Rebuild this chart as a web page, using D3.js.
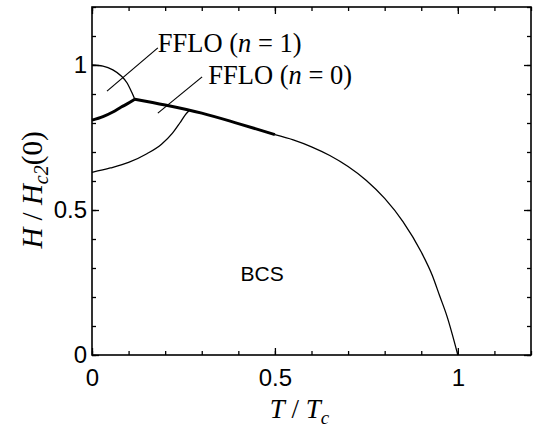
<!DOCTYPE html>
<html><head><meta charset="utf-8">
<script src="https://cdn.jsdelivr.net/npm/d3@7"></script>
<style>body{margin:0;background:#fff}</style>
</head><body><svg id="chart" width="534" height="428"></svg>
<script>
// Phase diagram H/Hc2(0) vs T/Tc
const bcsCurve = [[0.5,0.76],[0.55,0.742],[0.6,0.718],[0.65,0.688],[0.7,0.65],[0.75,0.602],[0.8,0.54],[0.85,0.46],[0.9,0.355],[0.93,0.275],[0.95,0.205],[0.97,0.135],[1.0,0]];
const firstOrderLow = [[0,0.81],[0.03,0.822],[0.057,0.838],[0.08,0.855],[0.096,0.866],[0.117,0.882]];
const firstOrderHigh = [[0.117,0.882],[0.2,0.862],[0.3,0.834],[0.4,0.798],[0.5,0.76]];
const ffloN1 = [[0,1.0],[0.03,0.996],[0.057,0.983],[0.08,0.962],[0.096,0.938],[0.109,0.905],[0.117,0.882]];
const ffloN0 = [[0,0.63],[0.05,0.645],[0.1,0.664],[0.15,0.694],[0.19,0.727],[0.22,0.765],[0.24,0.8],[0.255,0.828],[0.265,0.842]];
const xMinor = [0,0.1,0.2,0.3,0.4,0.5,0.6,0.7,0.8,0.9,1.0,1.1,1.2];
const xMajor = [0,0.5,1];
const yMinor = [0,0.1,0.2,0.3,0.4,0.5,0.6,0.7,0.8,0.9,1.0,1.1,1.2];
const yMajor = [0,0.5,1];
const tickText = d => d3.format("~g")(d);

const svg = d3.select("#chart");
const pLeft = 92, pRight = 531, pTop = 7, pBottom = 355;
const x = d3.scaleLinear().domain([0,1.2]).range([pLeft,pRight]);
const y = d3.scaleLinear().domain([0,1.2]).range([pBottom,pTop]);

const sans = "'Liberation Sans', Arial, sans-serif";
const serif = "'Liberation Serif', 'Times New Roman', serif";

function styleAxis(g){
  g.select(".domain").remove();
  g.selectAll(".tick line").attr("stroke","#000").attr("stroke-width",1.3);
  g.selectAll("text").attr("font-family",sans).attr("font-size",24).attr("fill","#000");
}

// bottom
svg.append("g").attr("transform",`translate(0,${pBottom})`)
  .call(d3.axisBottom(x).tickValues(xMinor).tickSize(-4).tickFormat("")).call(styleAxis);
svg.append("g").attr("transform",`translate(0,${pBottom})`)
  .call(d3.axisBottom(x).tickValues(xMajor).tickSize(-7).tickPadding(14).tickFormat(tickText)).call(styleAxis);
// top
svg.append("g").attr("transform",`translate(0,${pTop})`)
  .call(d3.axisTop(x).tickValues(xMinor).tickSize(-4).tickFormat("")).call(styleAxis);
svg.append("g").attr("transform",`translate(0,${pTop})`)
  .call(d3.axisTop(x).tickValues(xMajor).tickSize(-7).tickFormat("")).call(styleAxis);
// left
svg.append("g").attr("transform",`translate(${pLeft},0)`)
  .call(d3.axisLeft(y).tickValues(yMinor).tickSize(-4).tickFormat("")).call(styleAxis);
svg.append("g").attr("transform",`translate(${pLeft},0)`)
  .call(d3.axisLeft(y).tickValues(yMajor).tickSize(-7).tickPadding(5).tickFormat(tickText)).call(styleAxis);
// right
svg.append("g").attr("transform",`translate(${pRight},0)`)
  .call(d3.axisRight(y).tickValues(yMinor).tickSize(-4).tickFormat("")).call(styleAxis);
svg.append("g").attr("transform",`translate(${pRight},0)`)
  .call(d3.axisRight(y).tickValues(yMajor).tickSize(-7).tickFormat("")).call(styleAxis);

// frame
svg.append("rect").attr("x",pLeft).attr("y",pTop).attr("width",pRight-pLeft).attr("height",pBottom-pTop)
  .attr("fill","none").attr("stroke","#000").attr("stroke-width",1.6);

const line = d3.line().x(d=>x(d[0])).y(d=>y(d[1])).curve(d3.curveMonotoneX);
function curve(data,w){
  svg.append("path").datum(data).attr("d",line).attr("fill","none")
    .attr("stroke","#000").attr("stroke-width",w).attr("stroke-linejoin","round");
}
curve(bcsCurve,1.3);
curve(ffloN1,1.3);
curve(ffloN0,1.3);
curve(firstOrderLow,3);
curve(firstOrderHigh,3);

// annotations
const leaders = [
  {from:[0.041,0.91], to:[0.180,1.059]},
  {from:[0.180,0.834], to:[0.301,0.959]}
];
leaders.forEach(l=>{
  svg.append("line").attr("x1",x(l.from[0])).attr("y1",y(l.from[1]))
    .attr("x2",x(l.to[0])).attr("y2",y(l.to[1])).attr("stroke","#000").attr("stroke-width",1.2);
});
const labels = [
  {t:[0.18,1.046], n:"1"},
  {t:[0.318,0.934], n:"0"}
];
labels.forEach(l=>{
  const tx = svg.append("text").attr("x",x(l.t[0])).attr("y",y(l.t[1]))
    .attr("font-family",serif).attr("font-size",26.5).attr("fill","#000");
  tx.append("tspan").text("FFLO (");
  tx.append("tspan").attr("font-style","italic").text("n");
  tx.append("tspan").text(" = " + l.n + ")");
});

svg.append("text").attr("x",x(0.465)).attr("y",y(0.28)).attr("text-anchor","middle")
  .attr("dominant-baseline","central").attr("font-family",sans).attr("font-size",21).text("BCS");

// axis titles
const xt = svg.append("text").attr("x",(pLeft+pRight)/2 - 12).attr("y",418).attr("text-anchor","middle")
  .attr("font-family",serif).attr("font-size",27).attr("fill","#000");
xt.append("tspan").attr("font-style","italic").text("T");
xt.append("tspan").text(" / ");
xt.append("tspan").attr("font-style","italic").text("T");
xt.append("tspan").attr("font-style","italic").attr("font-size",19).attr("dy",6).text("c");

const yt = svg.append("text").attr("transform",`translate(42,${(pTop+pBottom)/2 + 9}) rotate(-90)`)
  .attr("text-anchor","middle").attr("font-family",serif).attr("font-size",29).attr("fill","#000");
yt.append("tspan").attr("font-style","italic").text("H");
yt.append("tspan").text(" / ");
yt.append("tspan").attr("font-style","italic").text("H");
yt.append("tspan").attr("font-style","italic").attr("font-size",20).attr("dy",6).text("c2");
yt.append("tspan").attr("dy",-6).text("(0)");
</script></body></html>
